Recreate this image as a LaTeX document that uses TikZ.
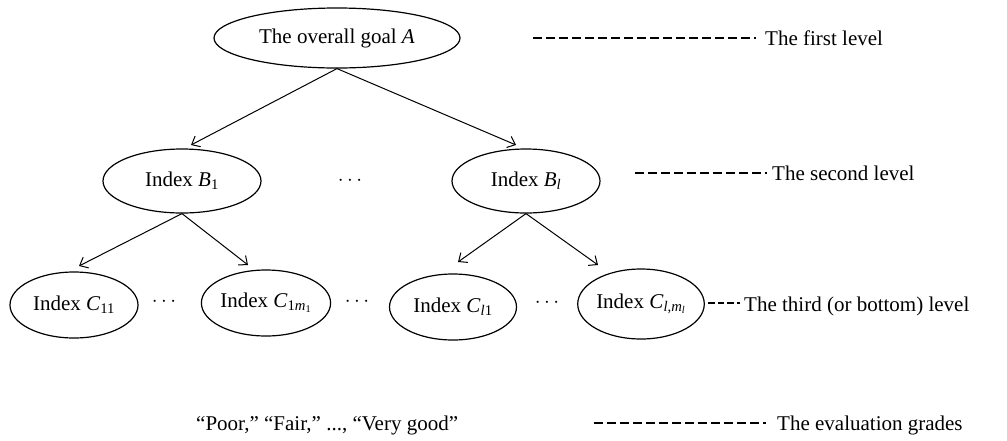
\documentclass[tikz,border=0pt]{standalone}
\usepackage{fontspec}
\setmainfont{Liberation Serif}
\usetikzlibrary{arrows.meta,shapes.geometric,calc}
\begin{document}
\begin{tikzpicture}[x=1pt,y=-1pt,
  every node/.style={font=\fontsize{21}{25}\selectfont},
  oval/.style={draw, ellipse, line width=1.2pt, inner sep=0pt},
  conn/.style={line width=1pt, -{Straight Barb[length=7pt,width=12pt]}},
  lead/.style={line width=1.2pt, dash pattern=on 8.5pt off 4.5pt},
  leadshort/.style={line width=1.2pt, dash pattern=on 6.5pt off 3pt},
  lbl/.style={anchor=base west, inner sep=0pt}]
\useasboundingbox (0,0) rectangle (1007,440);

% level 1
\node[oval, minimum width=246pt, minimum height=60pt] (A) at (337,38) {The overall goal \textit{A}};
% level 2
\node[oval, minimum width=158pt, minimum height=64pt] (B1) at (182,181) {Index \textit{B}\textsubscript{1}};
\node[oval, minimum width=148pt, minimum height=64pt] (Bl) at (526,181) {Index \textit{B}\textsubscript{\textit{l}}};
\node (dB) at (350,181) {$\cdots$};
% level 3
\node[oval, minimum width=128pt, minimum height=66pt] (C11) at (74,305) {Index \textit{C}\textsubscript{11}};
\node[oval, minimum width=128pt, minimum height=66pt] (C1m) at (266,303) {Index \textit{C}\textsubscript{1\textit{m}\textsubscript{1}}};
\node[oval, minimum width=127pt, minimum height=66pt] (Cl1) at (453,307) {Index \textit{C}\textsubscript{\textit{l}1}};
\node[oval, minimum width=124pt, minimum height=70pt] (Clm) at (641,304) {Index \textit{C}\textsubscript{\textit{l},\textit{m}\textsubscript{\textit{l}}}};
\node (dC1) at (164,302) {$\cdots$};
\node (dC2) at (357,302) {$\cdots$};
\node (dC3) at (547,303) {$\cdots$};

% arrow tips
\coordinate (tB1) at (191,145);
\coordinate (tBl) at (516,145);
\coordinate (tC11) at (79,266);
\coordinate (tC1m) at (248,265);
\coordinate (tCl1) at (458,262);
\coordinate (tClm) at (598,265);

\draw[conn] (A.south) -- (tB1);
\draw[conn] (A.south) -- (tBl);
\draw[conn] (B1.south) -- (tC11);
\draw[conn] (B1.south) -- (tC1m);
\draw[conn] (Bl.south) -- (tCl1);
\draw[conn] (Bl.south) -- (tClm);

% grades
\node[lbl] (G) at (196,430) {“Poor,” “Fair,” ..., “Very good”};

% level labels
\node[lbl] (L1) at (765,45) {The first level};
\node[lbl] (L2) at (772,180) {The second level};
\node[lbl] (L3) at (744,311) {The third (or bottom) level};
\node[lbl] (L4) at (777,430) {The evaluation grades};

\coordinate (d1a) at (533,38);  \coordinate (d1b) at (756,38);
\coordinate (d2a) at (635,173); \coordinate (d2b) at (767,173);
\coordinate (d3a) at (708,303); \coordinate (d3b) at (740,303);
\coordinate (d4a) at (594,423); \coordinate (d4b) at (766,423);
\draw[lead] (d1a) -- (d1b);
\draw[lead] (d2a) -- (d2b);
\draw[leadshort] (d3a) -- (d3b);
\draw[lead] (d4a) -- (d4b);
\end{tikzpicture}
\end{document}
